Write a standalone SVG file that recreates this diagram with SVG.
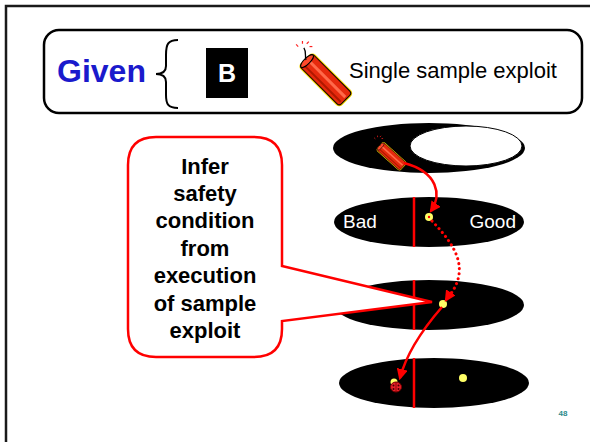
<svg xmlns="http://www.w3.org/2000/svg" width="590" height="442" viewBox="0 0 590 442">
  <style>
    .frame { fill: none; stroke: #1a1a1a; stroke-width: 2.5; }
    .sans { font-family: "Liberation Sans", Arial, sans-serif; }
    .oval { fill: #000; }
    .divider { stroke: #ff0000; stroke-width: 2.5; }
    .dot { fill: #ffff66; }
    .flow { fill: none; stroke: #ff0000; stroke-width: 2.5; }
    .dotted { fill: none; stroke: #ff0000; stroke-width: 3; stroke-dasharray: 0.1 5; stroke-linecap: round; }
    .label { fill: #fff; font-size: 19px; }
    .callout-text { font-size: 22px; font-weight: bold; fill: #000; text-anchor: middle; }
  </style>
  <defs>
    <marker id="head" viewBox="0 0 10 10" refX="8" refY="5" markerWidth="4.5" markerHeight="4.5" orient="auto" markerUnits="strokeWidth">
      <path d="M0,0 L10,5 L0,10 Z" fill="#ff0000"/>
    </marker>
    <!-- firecracker, axis along +x, fuse end at origin -->
    <g id="cracker">
      <rect x="0" y="-9" width="56" height="18" rx="3" fill="#e62a0d" stroke="#f5d200" stroke-width="3"/>
      <rect x="0" y="-9" width="56" height="18" rx="3" fill="#e62a0d" stroke="#000" stroke-width="1"/>
      <rect x="4" y="-3" width="50" height="3" fill="#ff6a4a"/>
      <rect x="4" y="4" width="50" height="2" fill="#b01800"/>
      <ellipse cx="1.5" cy="0" rx="3" ry="8.5" fill="#ff4a2a" stroke="#000" stroke-width="1"/>
      <path d="M0,0 C-4,-2 -5,-6 -10,-7" fill="none" stroke="#000" stroke-width="1.3"/>
      <g stroke="#ff2020" stroke-width="1.2">
        <line x1="-14" y1="-9" x2="-16" y2="-11"/>
        <line x1="-11" y1="-12" x2="-11" y2="-15"/>
        <line x1="-15" y1="-4" x2="-18" y2="-4"/>
        <line x1="-7" y1="-12" x2="-5" y2="-14"/>
      </g>
    </g>
  </defs>

  <!-- slide frame -->
  <path class="frame" d="M6,442 V6 H590"/>

  <!-- header panel -->
  <g id="given-panel">
    <rect x="44" y="30" width="538" height="83" rx="15" fill="#fff" stroke="#000" stroke-width="2.5"/>
    <text class="sans" x="57" y="82" font-size="32" font-weight="bold" fill="#1a1acc">Given</text>
    <path d="M178,40 C168,40 166,44 166,55 L166,66 C166,72 162,74 156,74 C162,74 166,76 166,82 L166,95 C166,104 168,108 178,108" fill="none" stroke="#000" stroke-width="2"/>
    <rect x="206" y="48" width="42" height="50" fill="#000"/>
    <text class="sans" x="227" y="82" font-size="25" font-weight="bold" fill="#fff" text-anchor="middle">B</text>
    <use href="#cracker" transform="translate(306,60) rotate(45)"/>
    <text class="sans" x="349" y="78" font-size="22" fill="#000">Single sample exploit</text>
  </g>

  <!-- state ovals -->
  <g id="oval-input">
    <ellipse class="oval" cx="429" cy="148" rx="96" ry="25"/>
    <ellipse cx="466" cy="146" rx="56" ry="20" fill="#fff" stroke="#000" stroke-width="1"/>
    <use href="#cracker" transform="translate(380,146) rotate(42) scale(0.55)"/>
  </g>
  <g id="oval-split">
    <ellipse class="oval" cx="429" cy="222" rx="95" ry="25"/>
    <line class="divider" x1="414" y1="197" x2="414" y2="247"/>
    <text class="sans label" x="343" y="228">Bad</text>
    <text class="sans label" x="516" y="228" text-anchor="end">Good</text>
    <circle class="dot" cx="429" cy="217" r="4"/>
    <circle cx="429" cy="217" r="1.2" fill="#ff0000"/>
  </g>
  <g id="oval-run">
    <ellipse class="oval" cx="429" cy="305" rx="95" ry="25"/>
    <line class="divider" x1="414" y1="280" x2="414" y2="330"/>
    <circle class="dot" cx="443" cy="304" r="4"/>
  </g>
  <g id="oval-result">
    <ellipse class="oval" cx="434" cy="383" rx="95" ry="25"/>
    <line class="divider" x1="414" y1="358" x2="414" y2="408"/>
    <circle class="dot" cx="463" cy="378" r="4"/>
    <circle class="dot" cx="394" cy="382" r="3.5"/>
    <!-- ladybug -->
    <g transform="translate(396,387)">
      <ellipse cx="0" cy="0" rx="5.5" ry="5" fill="#e8202a" stroke="#7a0000" stroke-width="1"/>
      <line x1="0" y1="-5" x2="0" y2="5" stroke="#7a0000" stroke-width="0.8"/>
      <circle cx="-2.5" cy="-1.5" r="1" fill="#400"/>
      <circle cx="2.5" cy="-1.5" r="1" fill="#400"/>
      <circle cx="-2.5" cy="2" r="1" fill="#400"/>
      <circle cx="2.5" cy="2" r="1" fill="#400"/>
    </g>
  </g>

  <!-- callout -->
  <g id="callout">
    <path d="M156,137 H254 Q282,137 282,165 V266 L432,302 L282,321 V329 Q282,357 254,357 H156 Q128,357 128,329 V165 Q128,137 156,137 Z" fill="#fff" stroke="#ff0000" stroke-width="2.5"/>
    <text class="sans callout-text" x="205" y="174">Infer</text>
    <text class="sans callout-text" x="205" y="201">safety</text>
    <text class="sans callout-text" x="205" y="228">condition</text>
    <text class="sans callout-text" x="205" y="256">from</text>
    <text class="sans callout-text" x="205" y="283">execution</text>
    <text class="sans callout-text" x="205" y="311">of sample</text>
    <text class="sans callout-text" x="205" y="338">exploit</text>
  </g>

  <!-- connectors -->
  <g id="connectors">
    <path class="flow" d="M404,163 C438,172 442,195 431,211" marker-end="url(#head)"/>
    <path class="dotted" d="M432,221 C455,245 470,268 450,295"/>
    <path class="flow" d="M451,292 L446,300" marker-end="url(#head)"/>
    <path class="flow" d="M442,307 C422,330 406,355 400,378" marker-end="url(#head)"/>
  </g>

  <text class="sans" x="563" y="416" font-size="8" font-weight="bold" fill="#2e8b8b" text-anchor="middle">48</text>
</svg>
